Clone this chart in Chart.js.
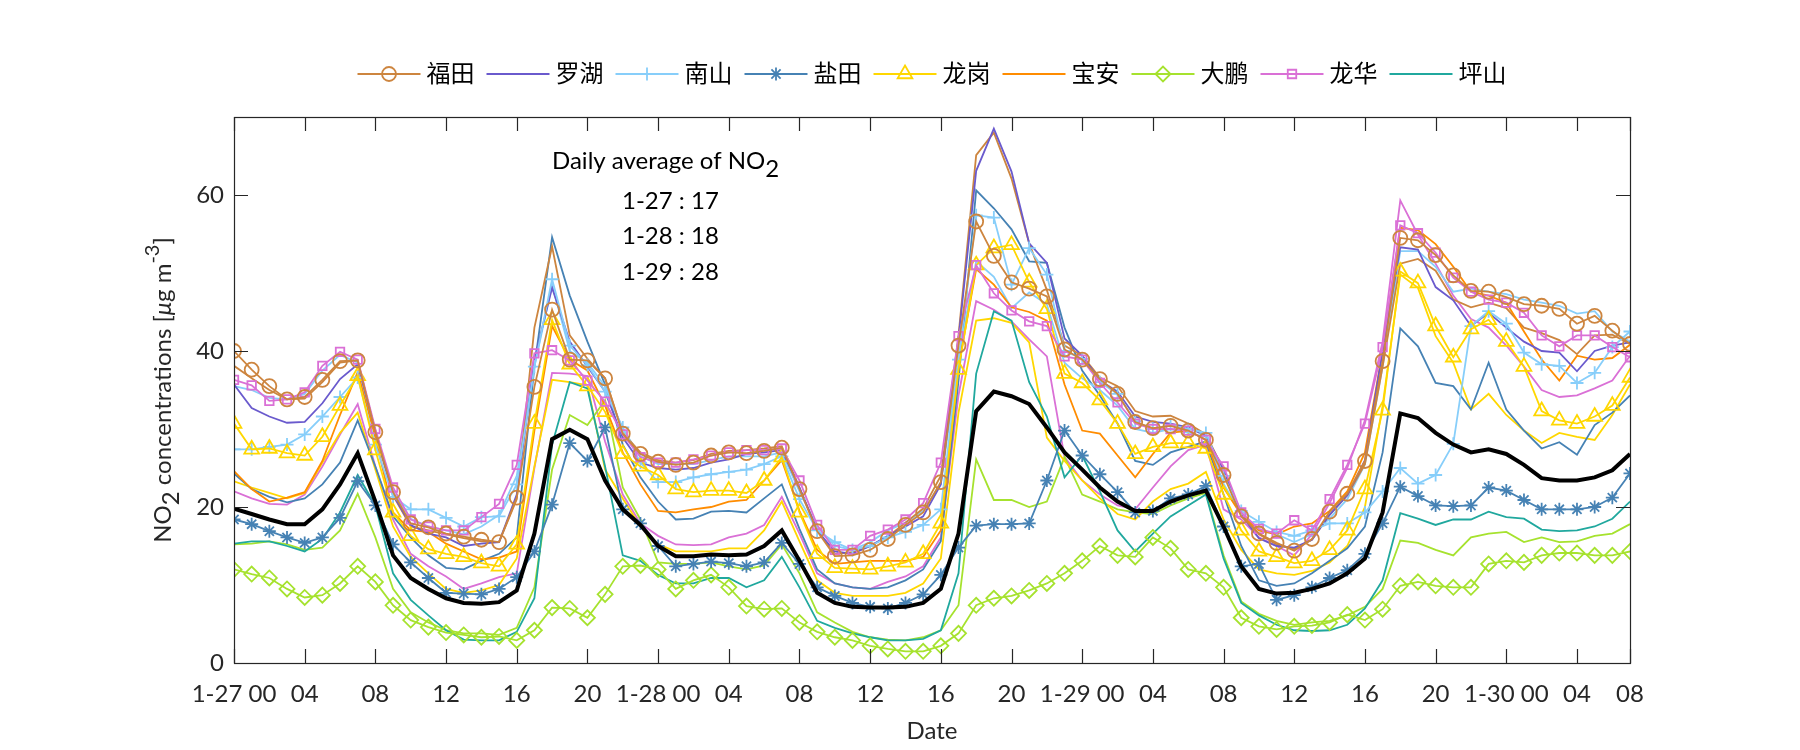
<!DOCTYPE html>
<html>
<head>
<meta charset="utf-8">
<script src="https://cdn.jsdelivr.net/npm/chart.js@4/dist/chart.umd.min.js"></script>
<style>
  html, body { margin: 0; background: #fff; }
  canvas { display: block; }
</style>
</head>
<body>
<canvas id="no2" width="1800" height="750"></canvas>
<script>
// hourly index, 1-27 00 .. 1-30 07
const hours = [
  0, 1, 2, 3, 4, 5, 6, 7, 8, 9, 10, 11, 12, 13, 14, 15, 16, 17, 18, 19,
  20, 21, 22, 23, 24, 25, 26, 27, 28, 29, 30, 31, 32, 33, 34, 35, 36, 37, 38, 39,
  40, 41, 42, 43, 44, 45, 46, 47, 48, 49, 50, 51, 52, 53, 54, 55, 56, 57, 58, 59,
  60, 61, 62, 63, 64, 65, 66, 67, 68, 69, 70, 71, 72, 73, 74, 75, 76, 77, 78, 79
];
const xTickPos = [0, 4, 8, 12, 16, 20, 24, 28, 32, 36, 40, 44, 48, 52, 56, 60, 64, 68, 72, 76, 79];
const xTickLabels = ['1-27 00', '04', '08', '12', '16', '20', '1-28 00', '04', '08', '12', '16', '20',
  '1-29 00', '04', '08', '12', '16', '20', '1-30 00', '04', '08'];
const yTicks = [0, 20, 40, 60];

const districts = ['福田', '罗湖', '南山', '盐田', '龙岗', '宝安', '大鹏', '龙华', '坪山'];

// stations shown with markers
const futian = [
  40.0, 37.6, 35.5, 33.8, 34.1, 36.3, 38.7, 38.8, 29.6, 21.9,
  17.9, 17.4, 16.6, 16.2, 15.8, 15.5, 21.2, 35.4, 45.3, 38.9,
  38.8, 36.5, 29.4, 26.8, 25.8, 25.4, 25.7, 26.6, 27.0, 26.9,
  27.2, 27.6, 22.3, 16.9, 13.7, 13.8, 14.5, 15.9, 17.7, 19.3,
  23.2, 40.7, 56.6, 52.2, 48.8, 48.0, 47.0, 40.2, 38.9, 36.4,
  34.5, 30.9, 30.1, 30.4, 29.8, 28.6, 24.1, 18.8, 16.6, 15.4,
  14.4, 15.9, 19.4, 21.7, 25.9, 38.7, 54.5, 54.2, 52.3, 49.7,
  47.7, 47.6, 46.9, 46.0, 45.8, 45.4, 43.5, 44.5, 42.6, 40.9
];
const nanshan = [
  27.4, 27.4, 27.7, 28.0, 29.3, 31.6, 34.1, 36.6, 28.0, 21.3,
  19.7, 19.7, 18.6, 17.5, 18.7, 18.8, 22.9, 38.0, 49.2, 40.7,
  38.2, 34.8, 30.2, 25.7, 23.2, 23.2, 23.8, 24.2, 24.5, 24.8,
  25.5, 26.5, 21.0, 17.0, 15.5, 14.5, 15.0, 16.1, 16.8, 17.7,
  19.7, 38.9, 57.4, 57.1, 48.5, 53.2, 49.8, 40.0, 39.0, 36.0,
  34.5, 31.0, 30.0, 30.5, 30.0, 29.5, 24.0, 19.5, 18.1, 16.8,
  16.3, 17.0, 17.9, 17.9, 19.3, 22.0, 25.0, 23.0, 24.1, 28.1,
  43.2, 45.1, 43.5, 39.8, 38.3, 38.1, 35.9, 37.2, 40.5, 42.5
];
const yantian = [
  18.4, 17.8, 16.9, 16.1, 15.4, 16.1, 18.6, 23.3, 20.2, 15.2,
  12.9, 10.9, 9.0, 8.9, 8.8, 9.5, 11.0, 14.3, 20.3, 28.2,
  25.9, 30.2, 19.7, 17.9, 15.0, 12.4, 12.7, 13.0, 12.8, 12.4,
  12.9, 15.4, 12.7, 9.7, 8.6, 7.7, 7.2, 7.0, 7.7, 8.8,
  11.3, 14.8, 17.6, 17.8, 17.8, 17.9, 23.4, 29.8, 26.6, 24.2,
  21.9, 19.3, 19.5, 21.1, 21.6, 22.7, 17.5, 12.4, 12.7, 8.1,
  8.7, 9.7, 10.9, 11.9, 14.0, 17.9, 22.6, 21.4, 20.2, 20.1,
  20.2, 22.5, 22.1, 20.9, 19.7, 19.7, 19.7, 20.0, 21.2, 24.3
];
const longgang = [
  30.7, 27.4, 27.5, 26.9, 26.6, 29.0, 33.0, 36.8, 27.3, 19.3,
  16.3, 14.6, 14.0, 13.6, 12.8, 12.4, 15.2, 30.7, 44.0, 38.3,
  35.5, 32.2, 26.8, 25.2, 24.1, 22.3, 21.9, 22.1, 22.1, 21.8,
  23.4, 26.4, 19.3, 14.0, 12.2, 12.1, 12.0, 12.4, 12.9, 14.0,
  17.9, 37.6, 51.0, 53.2, 53.6, 48.8, 45.4, 37.1, 35.9, 33.7,
  30.7, 26.8, 27.7, 28.2, 28.2, 27.5, 21.6, 17.0, 14.3, 13.6,
  12.8, 13.1, 14.5, 17.0, 22.3, 32.4, 50.2, 48.7, 43.2, 39.2,
  42.8, 44.0, 41.2, 38.0, 32.3, 31.1, 30.7, 31.6, 33.0, 36.6
];
const dapeng = [
  12.0, 11.4, 10.9, 9.5, 8.4, 8.7, 10.2, 12.4, 10.4, 7.4,
  5.5, 4.6, 3.9, 3.6, 3.3, 3.4, 2.9, 4.2, 7.1, 7.0,
  5.8, 8.8, 12.4, 12.5, 12.0, 9.5, 10.6, 11.3, 9.7, 7.3,
  6.9, 7.0, 5.2, 4.0, 3.3, 2.9, 2.2, 1.8, 1.5, 1.5,
  2.2, 3.8, 7.4, 8.3, 8.6, 9.3, 10.2, 11.5, 13.1, 15.0,
  13.8, 13.6, 16.1, 14.7, 12.0, 11.5, 9.7, 5.8, 4.7, 4.3,
  4.7, 4.8, 5.2, 6.2, 5.5, 6.9, 9.9, 10.4, 9.9, 9.7,
  9.7, 12.7, 13.1, 12.9, 13.8, 14.1, 14.1, 13.8, 13.8, 14.3
];
const longhua = [
  36.3, 35.6, 33.6, 33.8, 34.7, 38.1, 39.9, 38.9, 30.0, 22.5,
  18.4, 17.5, 17.0, 17.0, 18.7, 20.4, 25.4, 39.7, 40.1, 38.8,
  36.2, 33.5, 29.3, 26.4, 25.7, 25.7, 26.1, 26.6, 27.0, 27.3,
  27.3, 27.5, 23.4, 17.7, 14.5, 14.5, 16.3, 17.1, 18.4, 20.5,
  25.7, 41.9, 51.0, 47.4, 45.2, 43.8, 43.2, 39.3, 38.9, 35.9,
  33.4, 30.7, 30.0, 30.0, 29.8, 28.6, 25.2, 19.3, 17.2, 16.6,
  18.3, 17.0, 21.0, 25.4, 30.7, 40.5, 56.1, 55.1, 52.6, 49.4,
  47.6, 46.6, 46.2, 44.9, 42.0, 40.6, 42.0, 42.0, 40.5, 39.2
];

// single-station districts
const luohu = [
  35.7, 32.7, 31.6, 30.8, 30.9, 33.3, 36.4, 38.3, 29.8, 21.6,
  17.7, 16.6, 16.1, 15.0, 15.3, 15.5, 21.6, 38.9, 48.1, 41.2,
  38.0, 34.8, 28.9, 25.7, 25.0, 24.8, 25.0, 25.7, 26.1, 26.8,
  27.0, 27.3, 22.5, 17.0, 14.3, 14.0, 15.0, 16.3, 17.5, 18.8,
  22.9, 41.6, 63.1, 68.5, 63.0, 53.8, 51.3, 41.6, 39.4, 36.2,
  34.8, 31.6, 30.9, 30.7, 30.2, 29.1, 24.8, 19.0, 16.0, 15.0,
  14.8, 15.8, 19.0, 21.5, 26.0, 40.0, 53.3, 53.0, 48.2, 46.5,
  43.2, 44.9, 43.0, 41.2, 40.0, 39.8, 37.4, 40.0, 40.7, 41.1
];
const baoan = [
  24.6, 22.3, 20.7, 21.2, 21.9, 25.9, 31.8, 37.3, 28.9, 19.3,
  17.0, 16.8, 15.3, 14.3, 13.3, 13.5, 14.3, 29.8, 43.2, 38.9,
  37.5, 33.0, 27.0, 22.9, 19.5, 19.3, 19.7, 20.0, 20.7, 20.9,
  23.4, 26.0, 19.5, 14.5, 12.7, 12.9, 13.1, 13.1, 13.1, 13.6,
  17.0, 38.0, 50.5, 48.5, 45.6, 45.0, 43.9, 35.7, 29.8, 29.4,
  26.6, 23.8, 26.8, 29.5, 29.8, 28.6, 22.5, 19.0, 17.0, 16.5,
  17.5, 17.9, 19.5, 22.0, 27.0, 40.0, 55.8, 55.5, 53.7, 50.8,
  47.6, 47.1, 46.2, 42.5, 38.9, 36.2, 39.4, 38.9, 39.1, 40.8
];
const pingshan = [
  15.3, 15.6, 15.6, 15.0, 14.3, 15.9, 19.3, 24.1, 20.2, 11.5,
  8.1, 6.1, 4.2, 3.0, 2.9, 2.9, 4.0, 8.3, 28.0, 36.0,
  35.2, 25.2, 13.8, 13.1, 11.3, 10.2, 10.2, 10.9, 10.9, 9.7,
  10.6, 13.6, 9.7, 5.4, 4.5, 3.8, 3.3, 2.9, 2.9, 3.1,
  4.2, 11.5, 37.1, 45.1, 43.9, 36.0, 31.6, 23.8, 26.6, 22.0,
  17.0, 14.3, 16.6, 18.8, 20.2, 21.6, 13.4, 7.7, 6.1, 4.9,
  4.2, 4.1, 4.2, 4.9, 7.0, 10.6, 19.2, 18.5, 17.7, 18.4,
  18.4, 19.4, 18.7, 18.5, 17.1, 16.9, 17.0, 17.5, 18.5, 20.7
];

// second stations (no markers, not in legend)
const futian2 = [
  38.1, 36.5, 35.0, 33.8, 33.9, 36.0, 38.5, 38.8, 29.5, 21.5,
  17.5, 17.0, 16.5, 16.0, 15.6, 15.5, 21.0, 43.0, 53.4, 42.0,
  39.0, 36.5, 29.5, 27.0, 26.0, 25.7, 26.0, 26.8, 27.2, 27.3,
  27.5, 27.8, 22.5, 17.0, 14.0, 14.2, 15.0, 16.2, 18.0, 19.8,
  24.0, 42.0, 65.1, 68.0, 62.1, 53.8, 47.8, 40.7, 39.4, 36.6,
  35.5, 32.3, 31.6, 31.7, 30.7, 29.3, 24.8, 19.0, 16.5, 15.2,
  14.6, 15.8, 19.0, 21.5, 25.5, 38.0, 51.2, 51.8, 50.3, 46.6,
  45.6, 46.2, 45.5, 43.0, 42.3, 41.4, 39.6, 42.0, 42.1, 40.9
];
const nanshan2 = [
  35.5, 35.0, 34.0, 33.8, 34.5, 37.5, 39.5, 38.5, 29.0, 22.0,
  18.5, 17.5, 17.0, 16.5, 17.5, 19.0, 24.0, 38.0, 48.5, 40.0,
  38.5, 35.5, 30.0, 26.5, 25.5, 25.5, 25.5, 26.0, 26.5, 26.5,
  26.5, 27.0, 22.0, 17.5, 15.0, 14.5, 15.5, 17.0, 18.0, 19.5,
  23.0, 39.0, 51.5, 49.5, 45.5, 47.5, 46.0, 38.5, 36.5, 35.0,
  33.0, 30.0, 29.5, 30.0, 29.5, 29.0, 23.0, 19.0, 17.0, 16.5,
  15.5, 16.5, 18.5, 21.0, 25.5, 38.0, 52.8, 52.8, 50.8, 47.6,
  48.0, 47.6, 47.3, 46.6, 46.2, 45.8, 44.8, 45.1, 42.5, 41.2
];
const yantian2 = [
  24.3, 22.3, 21.3, 20.6, 21.1, 22.9, 25.7, 31.1, 25.2, 18.8,
  16.1, 13.8, 12.2, 12.0, 13.1, 14.0, 16.1, 38.0, 54.6, 47.1,
  41.2, 35.7, 28.0, 23.8, 20.7, 18.4, 18.5, 19.4, 19.5, 19.3,
  21.1, 22.9, 17.2, 12.0, 10.2, 9.7, 9.5, 9.7, 10.6, 12.0,
  15.6, 36.2, 60.6, 58.3, 55.6, 51.5, 51.3, 43.0, 37.5, 34.3,
  30.7, 25.9, 25.4, 27.0, 27.7, 28.4, 21.6, 15.0, 10.6, 9.9,
  10.2, 11.5, 13.1, 14.7, 17.5, 27.0, 42.9, 40.6, 35.9, 35.5,
  32.5, 38.5, 32.5, 29.8, 27.5, 28.3, 26.7, 30.5, 32.1, 34.3
];
const longgang2 = [
  23.3, 22.5, 21.8, 21.1, 21.8, 25.7, 29.5, 32.1, 24.8, 17.5,
  13.6, 11.5, 9.5, 9.0, 9.3, 10.0, 13.4, 25.2, 36.3, 36.0,
  35.6, 24.8, 21.1, 17.5, 15.2, 14.3, 14.3, 14.3, 14.7, 14.7,
  17.0, 20.7, 15.6, 10.6, 9.0, 8.6, 8.6, 8.6, 9.0, 10.2,
  13.4, 32.1, 43.9, 44.2, 43.6, 41.1, 28.9, 25.9, 23.4, 21.1,
  19.1, 18.4, 20.7, 22.3, 23.0, 24.5, 18.4, 14.5, 12.0, 11.5,
  11.3, 11.8, 12.9, 15.0, 20.0, 33.0, 49.8, 48.1, 41.9, 38.5,
  32.5, 34.5, 31.8, 29.8, 28.2, 29.5, 29.0, 28.6, 31.8, 35.7
];
const dapeng2 = [
  15.2, 15.3, 15.6, 15.2, 14.5, 14.8, 17.0, 21.7, 16.1, 9.5,
  6.5, 5.2, 4.2, 3.8, 3.8, 3.6, 4.5, 9.7, 24.8, 31.8,
  30.5, 33.7, 22.5, 18.4, 12.9, 12.7, 12.7, 12.9, 12.4, 12.0,
  12.5, 15.2, 11.5, 6.5, 5.2, 4.0, 3.3, 3.0, 2.9, 3.3,
  4.2, 7.4, 26.1, 20.9, 20.9, 20.0, 20.7, 26.4, 21.6, 20.7,
  19.7, 19.3, 19.1, 20.2, 21.1, 21.8, 13.8, 7.9, 6.3, 5.4,
  4.9, 5.2, 5.4, 6.1, 7.2, 9.5, 15.7, 15.4, 14.5, 13.8,
  16.1, 16.6, 16.8, 15.5, 16.1, 15.5, 15.6, 16.3, 16.6, 17.8
];
const longhua2 = [
  22.0, 21.1, 20.4, 20.3, 21.6, 25.2, 29.3, 33.2, 25.2, 18.4,
  14.0, 12.4, 11.1, 9.5, 10.2, 11.0, 11.5, 25.0, 37.2, 37.1,
  36.8, 28.4, 21.6, 17.9, 16.3, 15.2, 15.1, 15.2, 16.1, 16.6,
  17.7, 21.3, 16.6, 11.5, 10.2, 9.7, 9.5, 10.4, 11.1, 12.4,
  16.1, 34.3, 46.4, 45.3, 43.8, 41.5, 39.3, 26.4, 23.4, 21.6,
  20.2, 19.7, 22.5, 25.2, 27.3, 28.0, 19.7, 18.4, 16.1, 15.0,
  13.8, 16.5, 20.5, 25.0, 31.1, 41.2, 59.3, 54.9, 51.2, 47.1,
  44.1, 43.0, 40.7, 38.0, 35.0, 34.1, 34.3, 35.2, 36.2, 39.4
];

// city mean
const cityMean = [
  19.8, 19.1, 18.4, 17.8, 17.8, 19.7, 22.9, 26.9, 20.7, 13.8,
  10.9, 9.5, 8.3, 7.7, 7.6, 7.8, 9.3, 16.6, 28.7, 29.9,
  28.7, 23.4, 19.7, 17.7, 15.0, 13.7, 13.7, 13.9, 13.8, 13.9,
  15.0, 17.0, 13.1, 9.0, 7.7, 7.2, 7.1, 7.1, 7.2, 7.7,
  9.5, 16.6, 32.3, 34.8, 34.2, 33.2, 30.2, 27.0, 24.8, 22.5,
  20.7, 19.5, 19.5, 20.7, 21.5, 22.1, 17.5, 12.4, 9.5, 8.9,
  9.0, 9.5, 10.2, 11.5, 13.4, 19.3, 32.0, 31.4, 29.5, 28.0,
  27.0, 27.4, 26.8, 25.4, 23.7, 23.4, 23.4, 23.8, 24.7, 26.8
];

const dailyDates = ['1-27', '1-28', '1-29'];
const dailyAvg = [17, 18, 28];

const FONT = 'Lato, "Noto Sans CJK SC", "Noto Sans", sans-serif';
const TXT = '#262626';

function series(label, data, color, style, radius, width) {
  return {
    label: label,
    data: data,
    borderColor: color,
    backgroundColor: color,
    borderWidth: width || 1.8,
    pointStyle: style || 'circle',
    pointRadius: style ? radius : 0,
    pointBorderColor: color,
    pointBackgroundColor: 'rgba(0,0,0,0)',
    pointBorderWidth: 1.8,
    tension: 0
  };
}

// first dataset is drawn on top
const datasets = [
  series('mean', cityMean, '#000000', null, 0, 4),
  series('福田', futian, '#CD853F', 'circle', 7),
  series('龙华', longhua, '#DA70D6', 'rect', 6),
  series('龙岗', longgang, '#FFD700', 'triangle', 8.5),
  series('南山', nanshan, '#87CEFA', 'cross', 6.5),
  series('盐田', yantian, '#4682B4', 'star', 6.5),
  series('大鹏', dapeng, '#A6E22E', 'rectRot', 7.5),
  series('罗湖', luohu, '#6A5ACD'),
  series('宝安', baoan, '#FF8C00'),
  series('坪山', pingshan, '#20A89E'),
  series('福田2', futian2, '#CD853F'),
  series('南山2', nanshan2, '#87CEFA'),
  series('盐田2', yantian2, '#4682B4'),
  series('龙岗2', longgang2, '#FFD700'),
  series('大鹏2', dapeng2, '#A6E22E'),
  series('龙华2', longhua2, '#DA70D6')
];

// text with sub/superscript pieces
function richText(ctx, parts, x, y) {
  let cx = x;
  parts.forEach(p => {
    ctx.font = p.font || ('24px ' + FONT);
    ctx.fillText(p.t, cx, y + (p.dy || 0));
    cx += ctx.measureText(p.t).width;
  });
}
function richWidth(ctx, parts) {
  let w = 0;
  parts.forEach(p => {
    ctx.font = p.font || ('24px ' + FONT);
    w += ctx.measureText(p.t).width;
  });
  return w;
}

const axesBox = {
  id: 'axesBox',
  afterDatasetsDraw(chart) {
    const {ctx, chartArea: a, scales: {x, y}} = chart;
    const tl = 14;
    ctx.save();
    ctx.strokeStyle = TXT;
    ctx.lineWidth = 1.2;
    ctx.beginPath();
    x.ticks.forEach(t => {
      const px = Math.round(x.getPixelForValue(t.value)) + 0.5;
      ctx.moveTo(px, a.bottom); ctx.lineTo(px, a.bottom - tl);
      ctx.moveTo(px, a.top); ctx.lineTo(px, a.top + tl);
    });
    y.ticks.forEach(t => {
      const py = Math.round(y.getPixelForValue(t.value)) + 0.5;
      ctx.moveTo(a.left, py); ctx.lineTo(a.left + tl, py);
      ctx.moveTo(a.right, py); ctx.lineTo(a.right - tl, py);
    });
    ctx.stroke();
    ctx.strokeRect(Math.round(a.left) + 0.5, Math.round(a.top) + 0.5,
      Math.round(a.right - a.left), Math.round(a.bottom - a.top));
    ctx.restore();
  }
};

const texts = {
  id: 'texts',
  afterDraw(chart) {
    const {ctx, chartArea: a} = chart;
    ctx.save();
    ctx.fillStyle = '#000';
    ctx.textBaseline = 'middle';
    ctx.textAlign = 'left';
    richText(ctx, [{t: 'Daily average of NO'}, {t: '2', dy: 8}], a.left + 318, a.top + 44);
    dailyDates.forEach((d, i) => {
      ctx.font = '24px ' + FONT;
      ctx.fillText(d + ' : ' + dailyAvg[i], a.left + 388, a.top + 84 + i * 35.5);
    });

    // y axis title
    ctx.fillStyle = TXT;
    const parts = [
      {t: 'NO'}, {t: '2', dy: 8}, {t: ' concentrations ['},
      {t: 'μ', font: 'italic 24px ' + FONT}, {t: 'g m'},
      {t: '-3', dy: -10, font: '20px ' + FONT}, {t: ']'}
    ];
    const w = richWidth(ctx, parts);
    ctx.translate(163, (a.top + a.bottom) / 2);
    ctx.rotate(-Math.PI / 2);
    richText(ctx, parts, -w / 2, 0);
    ctx.restore();
  }
};

const legendRow = {
  id: 'legendRow',
  afterDraw(chart) {
    const {ctx, chartArea: a} = chart;
    const lineLen = 63, gapText = 6, itemGap = 12;
    ctx.save();
    ctx.font = '24px ' + FONT;
    const items = districts.map(name => chart.data.datasets.find(d => d.label === name));
    const widths = items.map(d => lineLen + gapText + ctx.measureText(d.label).width);
    const total = widths.reduce((s, v) => s + v, 0) + itemGap * (items.length - 1);
    let x0 = (a.left + a.right) / 2 - total / 2;
    const yMid = 74;
    items.forEach((d, i) => {
      ctx.strokeStyle = d.borderColor;
      ctx.lineWidth = d.borderWidth;
      ctx.beginPath();
      ctx.moveTo(x0, yMid);
      ctx.lineTo(x0 + lineLen, yMid);
      ctx.stroke();
      if (d.pointRadius > 0) {
        ctx.fillStyle = 'rgba(0,0,0,0)';
        ctx.strokeStyle = d.pointBorderColor;
        ctx.lineWidth = d.pointBorderWidth;
        Chart.helpers.drawPoint(ctx, {
          pointStyle: d.pointStyle, radius: d.pointRadius,
          borderWidth: d.pointBorderWidth, rotation: 0
        }, x0 + lineLen / 2, yMid);
      }
      ctx.font = '24px ' + FONT;
      ctx.fillStyle = '#000';
      ctx.textBaseline = 'middle';
      ctx.textAlign = 'left';
      ctx.fillText(d.label, x0 + lineLen + gapText, yMid);
      x0 += widths[i] + itemGap;
    });
    ctx.restore();
  }
};

new Chart(document.getElementById('no2'), {
  type: 'line',
  data: { labels: hours, datasets: datasets },
  options: {
    responsive: false,
    animation: false,
    devicePixelRatio: 1,
    layout: { padding: { top: 117, right: 170, left: 0, bottom: 0 } },
    plugins: {
      legend: { display: false },
      tooltip: { enabled: false }
    },
    scales: {
      x: {
        type: 'linear',
        min: 0,
        max: 79,
        afterBuildTicks: (scale) => { scale.ticks = xTickPos.map(v => ({value: v})); },
        afterFit: (scale) => { scale.height = 87; },
        grid: { display: false, drawTicks: false },
        border: { display: false },
        ticks: {
          autoSkip: false,
          maxRotation: 0,
          padding: 17,
          color: TXT,
          font: { size: 24, family: FONT },
          callback: (v) => xTickLabels[xTickPos.indexOf(v)]
        },
        title: {
          display: true,
          text: 'Date',
          color: TXT,
          font: { size: 24, family: FONT },
          padding: { top: 4, bottom: 4 }
        }
      },
      y: {
        min: 0,
        max: 70,
        afterBuildTicks: (scale) => { scale.ticks = yTicks.map(v => ({value: v})); },
        afterFit: (scale) => { scale.width = 234; },
        grid: { display: false, drawTicks: false },
        border: { display: false },
        ticks: {
          padding: 10,
          color: TXT,
          font: { size: 24, family: FONT }
        }
      }
    }
  },
  plugins: [axesBox, texts, legendRow]
});
</script>
</body>
</html>
